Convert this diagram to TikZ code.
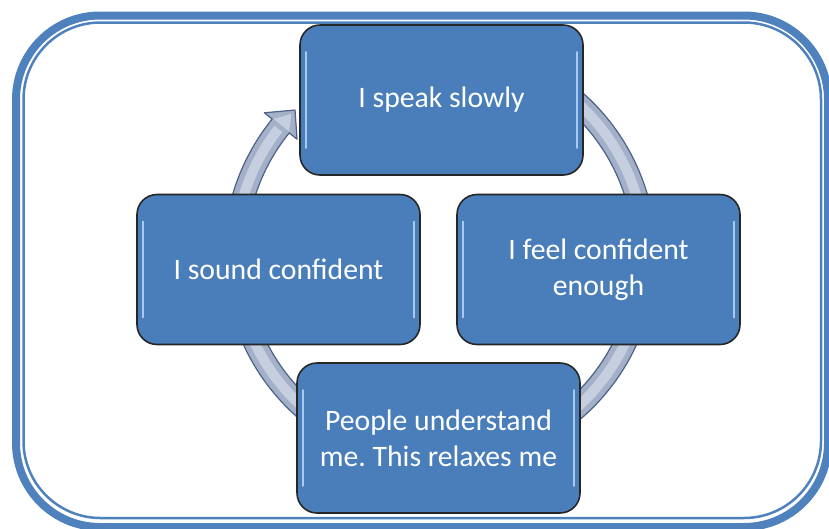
\documentclass[tikz,border=0pt]{standalone}
\usepackage{fontspec}
\setmainfont{Carlito}
\usetikzlibrary{calc}
\frenchspacing
\definecolor{frameblue}{HTML}{4F81BD}
\definecolor{boxblue}{HTML}{4A7EBB}
\definecolor{boxedge}{HTML}{262626}
\definecolor{ringfill}{HTML}{A3B0C8}
\definecolor{ringlight}{HTML}{C6CFDF}
\definecolor{ringedge}{HTML}{4C6288}
\definecolor{hilite}{HTML}{A9CBF2}
\begin{document}
\begin{tikzpicture}[x=1pt,y=-1pt,
  cyclebox/.style={draw=boxedge, line width=1.6pt, fill=boxblue, rounded corners=20pt,
    minimum width=283pt, minimum height=150pt, text=white, align=center,
    font=\fontsize{29.7}{36}\selectfont\frenchspacing, inner sep=0pt},
  hl/.style={hilite, line width=1.6pt, line cap=round},
  ring/.style={fill=ringfill, draw=ringedge, line width=1.2pt, line join=round}]
\useasboundingbox (0,0) rectangle (829,528);
% outer frame
\begin{scope}
  \clip (0,0) rectangle (829,528);
  \draw[frameblue, line width=8pt, rounded corners=84pt] (16,15.5) rectangle (828,527);
  \draw[frameblue, line width=2.5pt, rounded corners=77pt] (23.5,22.5) rectangle (821,518);
\end{scope}
% continuous cycle arrow
\coordinate (c) at (440,255);
\path[ring]
  ($(c)+(-90:216)$) arc[start angle=-90, end angle=219, radius=216]
  -- ($(c)+(219:226)$) -- ($(c)+(225:205)$) -- ($(c)+(219:184)$) -- ($(c)+(219:194)$)
  arc[start angle=219, end angle=-90, radius=194] -- cycle;
\draw[ringlight, line width=10pt] ($(c)+(-90:205)$) arc[start angle=-90, end angle=218, radius=205];
\fill[ringlight] ($(c)+(219.3:215)$) -- ($(c)+(223.5:205)$) -- ($(c)+(219.3:195)$) -- cycle;
% boxes
\node[cyclebox] (speak) at (441.5,100) {I speak slowly};
\node[cyclebox] (feel) at (598.5,269.5) {I feel confident\\enough};
\node[cyclebox] (people) at (438.5,438) {People understand\\me. This relaxes me};
\node[cyclebox] (sound) at (278.5,269.5) {I sound confident};
\foreach \n in {speak,feel,people,sound}{
  \draw[hl] ([shift={(7,-48)}]\n.west) -- ([shift={(7,48)}]\n.west);
  \draw[hl] ([shift={(-7,-48)}]\n.east) -- ([shift={(-7,48)}]\n.east);
}
\end{tikzpicture}
\end{document}
